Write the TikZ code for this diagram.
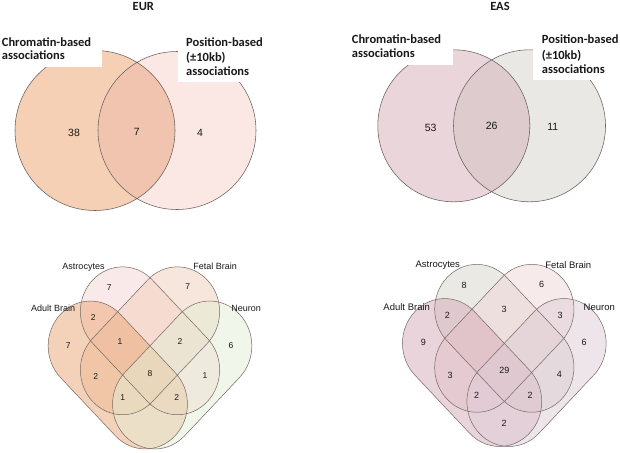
\documentclass[tikz,border=0pt]{standalone}
\usepackage{fontspec}
\setmainfont{Liberation Sans}
\newfontfamily\carlito{Carlito}
\definecolor{txt}{RGB}{25,25,25}
\definecolor{linec}{RGB}{105,96,92}
\definecolor{linel}{RGB}{115,104,100}
\definecolor{eurL}{RGB}{245,208,180}
\definecolor{eurR}{RGB}{251,232,229}
\definecolor{eurI}{RGB}{240,196,174}
\definecolor{easL}{RGB}{233,213,218}
\definecolor{easR}{RGB}{234,232,228}
\definecolor{easI}{RGB}{221,203,205}
\definecolor{euA}{RGB}{247,213,213}
\definecolor{euF}{RGB}{241,207,185}
\definecolor{euD}{RGB}{235,167,117}
\definecolor{euN}{RGB}{227,238,213}
\definecolor{eaA}{RGB}{217,213,203}
\definecolor{eaF}{RGB}{239,215,215}
\definecolor{eaD}{RGB}{215,171,185}
\definecolor{eaN}{RGB}{223,205,215}
\def\caph{40pt}
\def\capr{43.5pt}
\newcommand\capsule[4]{\path[#1,shift={(#2,#3)},rotate=#4] (-\caph,-\capr) -- (\caph,-\capr) arc[start angle=-90,end angle=90,radius=\capr] -- (-\caph,\capr) arc[start angle=90,end angle=270,radius=\capr] -- cycle;}
\begin{document}
\begin{tikzpicture}[x=1pt,y=-1pt,
  vline/.style={draw=linec,line width=0.55pt},
  cline/.style={draw=linel,line width=0.5pt},
  ttl/.style={font=\carlito\bfseries\fontsize{12.5}{14}\selectfont,inner sep=0pt,text=txt},
  bignum/.style={font=\fontsize{10.5}{12}\selectfont,inner sep=0pt,text=txt},
  eulab/.style={font=\fontsize{9}{10}\selectfont,inner sep=0pt,text=txt,text height=6.5pt,text depth=0pt},
  ealab/.style={font=\fontsize{9.5}{10}\selectfont,inner sep=0pt,text=txt,text height=6.8pt,text depth=0pt},
  eunum/.style={font=\fontsize{8.5}{10}\selectfont,inner sep=0pt,text=txt},
  eanum/.style={font=\fontsize{9}{10}\selectfont,inner sep=0pt,text=txt}]
\useasboundingbox (0,0) rectangle (620,452);
\fill[white] (0,0) rectangle (620,452);
% ---------- EUR top ----------
\fill[eurL] (95,130.5) circle[radius=80pt];
\fill[eurR] (177,130.5) circle[radius=79pt];
\begin{scope}
  \clip (95,130.5) circle[radius=80pt];
  \fill[eurI] (177,130.5) circle[radius=79pt];
\end{scope}
\draw[vline] (95,130.5) circle[radius=80pt] (177,130.5) circle[radius=79pt];
\fill[white] (0,20) rectangle (101.7,66.7);
\fill[white] (178.3,20) rectangle (275,81.7);
\node[ttl,anchor=base] (eurT) at (143.3,11) {EUR};
\node[ttl,anchor=base west] (eurC1) at (1.7,46) {Chromatin-based};
\node[ttl,anchor=base west] (eurC2) at (1.7,59.3) {associations};
\node[ttl,anchor=base west] (eurP1) at (186,46) {Position-based};
\node[ttl,anchor=base west] (eurP2) at (186,61) {(±10kb)};
\node[ttl,anchor=base west] (eurP3) at (186,75) {associations};
\node[bignum] (eurN1) at (74,133.3) {38};
\node[bignum] (eurN2) at (136.7,131.7) {7};
\node[bignum] (eurN3) at (200,132.7) {4};
% ---------- EAS top ----------
\fill[easL] (453.8,125.8) circle[radius=76pt];
\fill[easR] (529.5,125.8) circle[radius=76pt];
\begin{scope}
  \clip (453.8,125.8) circle[radius=76pt];
  \fill[easI] (529.5,125.8) circle[radius=76pt];
\end{scope}
\draw[vline] (453.8,125.8) circle[radius=76pt] (529.5,125.8) circle[radius=76pt];
\fill[white] (340,20) rectangle (453.3,65);
\fill[white] (532.7,20) rectangle (620,80);
\node[ttl,anchor=base] (easT) at (500,11) {EAS};
\node[ttl,anchor=base west] (easC1) at (351.7,43.5) {Chromatin-based};
\node[ttl,anchor=base west] (easC2) at (351.7,57) {associations};
\node[ttl,anchor=base west] (easP1) at (541.7,44) {Position-based};
\node[ttl,anchor=base west] (easP2) at (541.7,59.5) {(±10kb)};
\node[ttl,anchor=base west] (easP3) at (541.7,74) {associations};
\node[bignum] (easN1) at (430.7,127.7) {53};
\node[bignum] (easN2) at (491.7,126) {26};
\node[bignum] (easN3) at (552.7,127.3) {11};
% ---------- EUR bottom ----------
\begin{scope}[shift={(150,375)},xscale=0.97,yscale=1.03]
  \capsule{fill=euA,fill opacity=0.5}{0}{-33.2}{-45}
  \capsule{fill=euF,fill opacity=0.5}{0}{-33.2}{45}
  \capsule{fill=euD,fill opacity=0.5}{-33.2}{0}{-45}
  \capsule{fill=euN,fill opacity=0.5}{33.2}{0}{45}
  \capsule{cline}{0}{-33.2}{-45}
  \capsule{cline}{0}{-33.2}{45}
  \capsule{cline}{-33.2}{0}{-45}
  \capsule{cline}{33.2}{0}{45}
\end{scope}
\node[eulab] (euLa) at (83.5,266) {Astrocytes};
\node[eulab] (euLf) at (215.2,266) {Fetal Brain};
\node[eulab] (euLd) at (53.2,308.5) {Adult Brain};
\node[eulab] (euLn) at (246.2,308.5) {Neuron};
\node[eunum] (eu1) at (109.3,287.3) {7};
\node[eunum] (eu2) at (187.7,286.7) {7};
\node[eunum] (eu3) at (93.3,317.3) {2};
\node[eunum] (eu4) at (68.3,346) {7};
\node[eunum] (eu5) at (120,341.7) {1};
\node[eunum] (eu6) at (180,341.7) {2};
\node[eunum] (eu7) at (231,345.7) {6};
\node[eunum] (eu8) at (95.7,376.7) {2};
\node[eunum] (eu9) at (150,373.3) {8};
\node[eunum] (eu10) at (205,375.7) {1};
\node[eunum] (eu11) at (122.7,397.7) {1};
\node[eunum] (eu12) at (176.7,397.7) {2};
% ---------- EAS bottom ----------
\begin{scope}[shift={(504.3,372.5)},xscale=0.97,yscale=1.03]
  \capsule{fill=eaA,fill opacity=0.5}{0}{-33.2}{-45}
  \capsule{fill=eaF,fill opacity=0.5}{0}{-33.2}{45}
  \capsule{fill=eaD,fill opacity=0.5}{-33.2}{0}{-45}
  \capsule{fill=eaN,fill opacity=0.5}{33.2}{0}{45}
  \capsule{cline}{0}{-33.2}{-45}
  \capsule{cline}{0}{-33.2}{45}
  \capsule{cline}{-33.2}{0}{-45}
  \capsule{cline}{33.2}{0}{45}
\end{scope}
\node[ealab] (eaLa) at (437.8,264) {Astrocytes};
\node[ealab] (eaLf) at (568.3,265) {Fetal Brain};
\node[ealab] (eaLd) at (406.7,306.7) {Adult Brain};
\node[ealab] (eaLn) at (599.3,306.7) {Neuron};
\node[eanum] (ea1) at (464,285.7) {8};
\node[eanum] (ea2) at (541.7,284.3) {6};
\node[eanum] (ea3) at (447.3,315) {2};
\node[eanum] (ea4) at (504,309.3) {3};
\node[eanum] (ea5) at (560,315) {3};
\node[eanum] (ea6) at (423.3,342.7) {9};
\node[eanum] (ea7) at (584,342.7) {6};
\node[eanum] (ea8) at (450,375) {3};
\node[eanum] (ea9) at (504.3,370.7) {29};
\node[eanum] (ea10) at (559.3,374) {4};
\node[eanum] (ea11) at (476.7,395.7) {2};
\node[eanum] (ea12) at (530,395.7) {2};
\node[eanum] (ea13) at (504,423.3) {2};
\end{tikzpicture}
\end{document}
